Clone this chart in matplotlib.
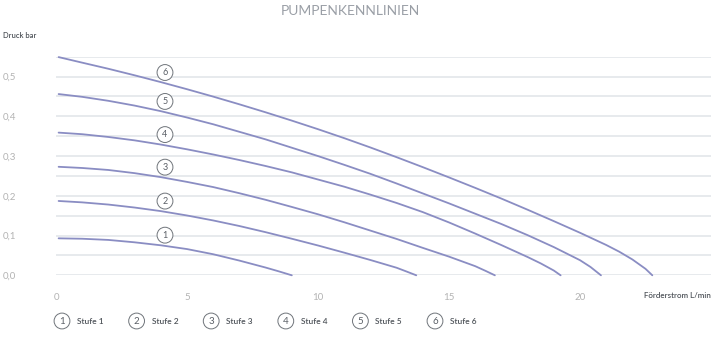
import matplotlib.pyplot as plt
import numpy as np

plt.rcParams['font.family'] = ['Lato', 'DejaVu Sans']

# Pumpenkennlinien, Werte (Förderstrom L/min, Druck bar)
stufen = ['Stufe 1', 'Stufe 2', 'Stufe 3', 'Stufe 4', 'Stufe 5', 'Stufe 6']

x1 = [0.1, 1, 2, 3, 4, 5, 6, 7, 8, 8.5, 9.0]
p1 = [0.093, 0.092, 0.089, 0.083, 0.0755, 0.066, 0.053, 0.037, 0.0195, 0.010, 0.0]

x2 = [0.1, 1, 2, 3, 4, 5, 6, 7, 8, 9, 10, 11, 12, 13, 13.4, 13.75]
p2 = [0.187, 0.1835, 0.178, 0.1705, 0.1615, 0.1505, 0.138, 0.124, 0.1085, 0.092, 0.075,
      0.057, 0.0385, 0.019, 0.009, 0.0]

x3 = [0.1, 1, 2, 3, 4, 5, 6, 7, 8, 9, 10, 11, 12, 13, 14, 15, 16, 16.4, 16.75]
p3 = [0.273, 0.270, 0.265, 0.257, 0.247, 0.235, 0.222, 0.2065, 0.190, 0.172, 0.1535,
      0.1335, 0.1125, 0.0915, 0.069, 0.047, 0.023, 0.011, 0.0]

x4 = [0.1, 1, 2, 3, 4, 5, 6, 7, 8, 9, 10, 11, 12, 13, 14, 15, 16, 17, 18, 18.5, 19, 19.26]
p4 = [0.359, 0.355, 0.348, 0.3395, 0.329, 0.317, 0.304, 0.290, 0.275, 0.259, 0.241, 0.223,
      0.203, 0.182, 0.159, 0.133, 0.105, 0.076, 0.046, 0.030, 0.012, 0.0]

x5 = [0.1, 1, 2, 3, 4, 5, 6, 7, 8, 9, 10, 11, 12, 13, 14, 15, 16, 17, 18, 19, 20, 20.4, 20.8]
p5 = [0.456, 0.449, 0.439, 0.427, 0.413, 0.397, 0.380, 0.361, 0.342, 0.321, 0.300, 0.278,
      0.2553, 0.231, 0.206, 0.181, 0.155, 0.129, 0.101, 0.071, 0.038, 0.021, 0.0]

x6 = [0.1, 1, 2, 3, 4, 5, 6, 7, 8, 9, 10, 11, 12, 13, 14, 15, 16, 17, 18, 19, 20, 21,
      21.5, 22, 22.5, 22.76]
p6 = [0.549, 0.535, 0.5196, 0.5032, 0.4861, 0.4682, 0.4496, 0.4302, 0.4101, 0.3892, 0.3676,
      0.3451, 0.3216, 0.2972, 0.2721, 0.2463, 0.2200, 0.1930, 0.1650, 0.1363, 0.1070, 0.0763,
      0.0593, 0.0398, 0.0163, 0.0]

kurven = [(x1, p1), (x2, p2), (x3, p3), (x4, p4), (x5, p5), (x6, p6)]
x_ticks = [0, 5, 10, 15, 20]
y_ticks = [0.0, 0.1, 0.2, 0.3, 0.4, 0.5]

linie = '#8a8dc3'
grau_hell = '#b3b3b3'
grau_dunkel = '#4f545a'

fig = plt.figure(figsize=(7.2, 3.37), dpi=100)
ax = fig.add_axes([56 / 720, 1 - 275.3 / 337, (711 - 56) / 720, (275.3 - 56.7) / 337])

# Gitterlinien alle 0,05 bar
for g in np.arange(0, 0.551, 0.05):
    ax.axhline(g, color='#e3e6ea', lw=1.2, zorder=0)

for (x, p) in kurven:
    ax.plot(x, p, color=linie, lw=1.3, solid_capstyle='round', solid_joinstyle='round',
            clip_on=False, zorder=2)

# Nummern an den Kurven
kreis = dict(boxstyle='circle,pad=0.38', fc='white', ec='#6f747a', lw=0.7)
for i, (x, p) in enumerate(kurven):
    yl = np.interp(4.16, x, p) + 0.027
    ax.text(4.16, yl, str(i + 1), fontsize=6.5, color='#5a5f66', ha='center', va='center',
            bbox=kreis, zorder=3)

ax.set_xlim(0, 25)
ax.set_ylim(0, 0.55)
for s in ax.spines.values():
    s.set_visible(False)
ax.set_xticks(x_ticks)
ax.set_xticklabels([str(t) for t in x_ticks])
ax.set_yticks(y_ticks)
ax.set_yticklabels([('%.1f' % t).replace('.', ',') for t in y_ticks])
ax.tick_params(axis='both', length=0, labelsize=7, labelcolor=grau_hell)
ax.tick_params(axis='x', pad=13)
ax.tick_params(axis='y', pad=38)
for lbl in ax.get_yticklabels():
    lbl.set_ha('left')

fig.text(350 / 720, 1 - 11 / 337, 'PUMPENKENNLINIEN', ha='center', va='center',
         fontsize=10, color='#9a9fa6')
fig.text(3 / 720, 1 - 36 / 337, 'Druck bar', ha='left', va='center', fontsize=5.5,
         color=grau_dunkel, fontweight='semibold')
fig.text(711 / 720, 1 - 296 / 337, 'Förderstrom L/min', ha='right', va='center',
         fontsize=5.8, color=grau_dunkel, fontweight='semibold')

# Legende
for i, name in enumerate(stufen):
    cx = (62 + i * 74.6) / 720
    cy = 1 - 321 / 337
    fig.text(cx, cy, str(i + 1), fontsize=7, color='#5a5f66', ha='center', va='center',
             bbox=dict(boxstyle='circle,pad=0.35', fc='white', ec='#6f747a', lw=0.7))
    fig.text(cx + 15 / 720, cy, name, fontsize=6, color=grau_dunkel, ha='left', va='center',
             fontweight='semibold')

fig.savefig('out.png', dpi=100)
